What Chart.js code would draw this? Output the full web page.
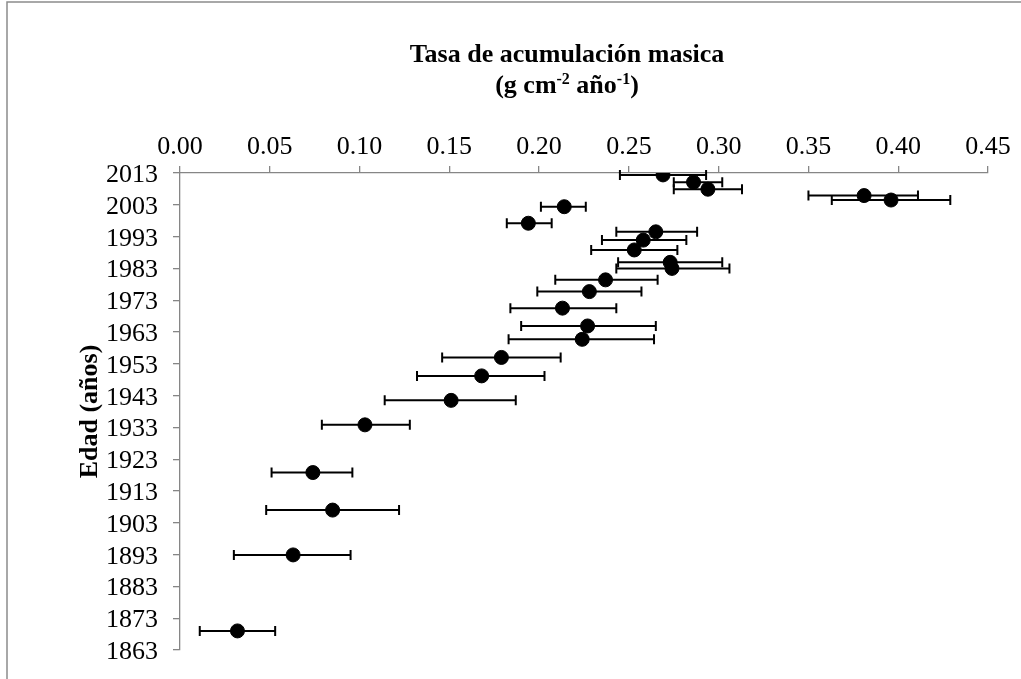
<!DOCTYPE html>
<html>
<head>
<meta charset="utf-8">
<script src="https://cdn.jsdelivr.net/npm/chart.js@4/dist/chart.umd.min.js"></script>
<style>
  html, body { margin: 0; padding: 0; background: #fff; }
  canvas { display: block; }
</style>
</head>
<body>
<canvas id="myChart" width="1021" height="679"></canvas>
<script>
// data
let edad = [2012.4, 2010.1, 2007.9, 2005.9, 2004.5, 2002.4, 1997.2, 1994.5, 1991.9, 1988.8, 1984.9, 1983.0, 1979.4, 1975.7, 1970.5, 1964.9, 1960.7, 1955.0, 1949.2, 1941.5, 1933.8, 1918.8, 1907.0, 1892.9, 1869.0];
let tasa = [0.269, 0.286, 0.294, 0.381, 0.396, 0.214, 0.194, 0.265, 0.258, 0.253, 0.273, 0.274, 0.237, 0.228, 0.213, 0.227, 0.224, 0.179, 0.168, 0.151, 0.103, 0.074, 0.085, 0.063, 0.032];
let tasaMin = [0.245, 0.275, 0.275, 0.350, 0.363, 0.201, 0.182, 0.243, 0.235, 0.229, 0.244, 0.243, 0.209, 0.199, 0.184, 0.190, 0.183, 0.146, 0.132, 0.114, 0.079, 0.051, 0.048, 0.030, 0.011];
let tasaMax = [0.293, 0.302, 0.313, 0.411, 0.429, 0.226, 0.207, 0.288, 0.282, 0.277, 0.302, 0.306, 0.266, 0.257, 0.243, 0.265, 0.264, 0.212, 0.203, 0.187, 0.128, 0.096, 0.122, 0.095, 0.053];
let xTicks = [0.00, 0.05, 0.10, 0.15, 0.20, 0.25, 0.30, 0.35, 0.40, 0.45];
let yTicks = [1863, 1873, 1883, 1893, 1903, 1913, 1923, 1933, 1943, 1953, 1963, 1973, 1983, 1993, 2003, 2013];

const gris = '#868686';
const serif = '"Liberation Serif", "Times New Roman", serif';

// marco gris alrededor
const marco = {
    id: 'marco',
    beforeDraw(chart) {
        const ctx = chart.ctx;
        ctx.save();
        ctx.strokeStyle = '#8c8c8c';
        ctx.lineWidth = 1.5;
        ctx.beginPath();
        ctx.moveTo(7, 679);
        ctx.lineTo(7, 2);
        ctx.lineTo(1021, 2);
        ctx.stroke();
        ctx.restore();
    }
};

// barras de error horizontales
const barrasError = {
    id: 'barrasError',
    beforeDatasetsDraw(chart) {
        const ctx = chart.ctx;
        const xs = chart.scales.x, ys = chart.scales.y;
        ctx.save();
        ctx.strokeStyle = '#000';
        ctx.lineWidth = 2;
        edad.forEach((e, i) => {
            const y = ys.getPixelForValue(e);
            const x1 = xs.getPixelForValue(tasaMin[i]);
            const x2 = xs.getPixelForValue(tasaMax[i]);
            ctx.beginPath();
            ctx.moveTo(x1, y); ctx.lineTo(x2, y);
            ctx.moveTo(x1, y - 5); ctx.lineTo(x1, y + 5);
            ctx.moveTo(x2, y - 5); ctx.lineTo(x2, y + 5);
            ctx.stroke();
        });
        ctx.restore();
    }
};

// textos: etiquetas de ejes y titulos
const textos = {
    id: 'textos',
    afterDraw(chart) {
        const ctx = chart.ctx;
        const xs = chart.scales.x, ys = chart.scales.y;
        const area = chart.chartArea;
        ctx.save();
        ctx.fillStyle = '#000';
        ctx.textBaseline = 'alphabetic';

        ctx.font = '26px ' + serif;
        ctx.textAlign = 'center';
        xTicks.forEach(v => {
            ctx.fillText(v.toFixed(2), xs.getPixelForValue(v), area.top - 19);
        });
        ctx.textAlign = 'right';
        yTicks.forEach(v => {
            ctx.fillText(String(v), area.left - 22, ys.getPixelForValue(v) + 9);
        });

        // titulo
        const cx = 567;
        ctx.font = 'bold 26px ' + serif;
        ctx.textAlign = 'center';
        ctx.fillText('Tasa de acumulación masica', cx, 62);

        const partes = [['(g cm', false], ['-2', true], [' año', false], ['-1', true], [')', false]];
        const fuente = p => (p[1] ? 'bold 16px ' : 'bold 26px ') + serif;
        let total = 0;
        partes.forEach(p => {
            ctx.font = fuente(p);
            total += ctx.measureText(p[0]).width;
        });
        let x = cx - total / 2;
        ctx.textAlign = 'left';
        partes.forEach(p => {
            ctx.font = fuente(p);
            ctx.fillText(p[0], x, p[1] ? 84 : 93);
            x += ctx.measureText(p[0]).width;
        });

        // titulo eje y
        ctx.font = 'bold 26px ' + serif;
        ctx.textAlign = 'center';
        ctx.translate(97, (area.top + area.bottom) / 2);
        ctx.rotate(-Math.PI / 2);
        ctx.fillText('Edad (años)', 0, 0);

        ctx.restore();
    }
};

let context = document.getElementById('myChart').getContext('2d');
let chart = new Chart(context, {
    type: 'scatter',
    data: {
        datasets: [
            {
                label: 'Tasa',
                data: edad.map((e, i) => ({ x: tasa[i], y: e })),
                backgroundColor: '#000',
                borderColor: '#000',
                pointRadius: 7,
                pointHoverRadius: 7
            }
        ]
    },
    options: {
        responsive: false,
        animation: false,
        devicePixelRatio: 1,
        layout: { padding: { left: 0, top: 0, right: 33, bottom: 29 } },
        plugins: {
            legend: { display: false },
            tooltip: { enabled: false }
        },
        scales: {
            x: {
                type: 'linear',
                position: 'top',
                min: 0,
                max: 0.45,
                ticks: { display: false },
                grid: { drawOnChartArea: false, drawTicks: true, tickLength: 7, color: gris, lineWidth: 1.3 },
                border: { color: gris, width: 1.3 },
                afterBuildTicks: s => { s.ticks = xTicks.map(v => ({ value: v })); },
                afterFit: s => { s.height = 173; }
            },
            y: {
                type: 'linear',
                position: 'left',
                min: 1863,
                max: 2013,
                ticks: { display: false },
                grid: { drawOnChartArea: false, drawTicks: true, tickLength: 7, color: gris, lineWidth: 1.3 },
                border: { color: gris, width: 1.3 },
                afterBuildTicks: s => { s.ticks = yTicks.map(v => ({ value: v })); },
                afterFit: s => { s.width = 180; }
            }
        }
    },
    plugins: [marco, barrasError, textos]
});
</script>
</body>
</html>
